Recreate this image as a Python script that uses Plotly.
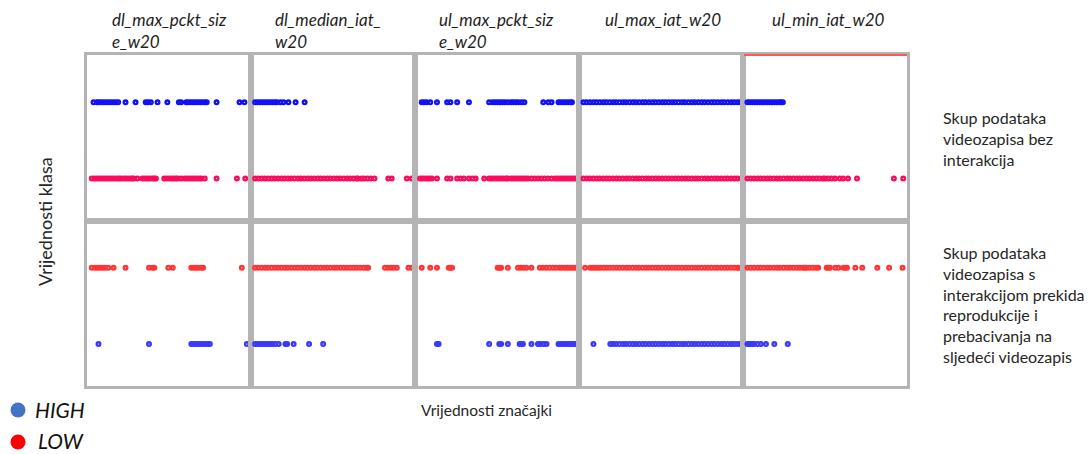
import plotly.graph_objects as go
from plotly.subplots import make_subplots

# Feature names shown as column headers (wrapped as in the layout)
feature_headers = [
    "dl_max_pckt_siz<br>e_w20",
    "dl_median_iat_<br>w20",
    "ul_max_pckt_siz<br>e_w20",
    "ul_max_iat_w20",
    "ul_min_iat_w20",
]
row_labels = [
    "Skup podataka<br>videozapisa bez<br>interakcija",
    "Skup podataka<br>videozapisa s<br>interakcijom prekida<br>reprodukcije i<br>prebacivanja na<br>sljedeći videozapis",
]
class_names = ["HIGH", "LOW"]

# ---- Dataset without interaction (top row), normalised feature values 0..100 ----
dlmax_top_high = [4, 6, 7, 8.5, 10, 11.5, 13, 14.5, 16, 17.5, 19, 23.5, 29.6, 35.8, 37.2, 38.9, 43, 49,
                  56, 57.4, 60.5, 61.5, 63, 64.5, 66, 67.5, 69, 70.5, 72, 73, 79, 93, 96]
dlmax_top_low = [2.9, 4.5, 6, 7.5, 9, 10.5, 12, 13.5, 15, 16.5, 18, 19.5, 20.4, 22, 23.5, 25, 26.5, 27.6,
                 28.6, 30.7, 33.8, 35.3, 36.8, 38.3, 39.8, 41, 42, 47.1, 48.6, 50.1, 51.6, 53, 54.3, 55.4,
                 57.4, 59.4, 60.9, 62.4, 63.9, 65.4, 66.9, 68.4, 69.8, 71.8, 79, 91.4, 96.5]
dlmed_top_high = [2.5, 4, 5.5, 7, 8.5, 10, 11.5, 13, 14.5, 15.8, 17.9, 19.8, 22.8, 27.2, 32.7]
dlmed_top_low = [2.5, 4.4, 6.5, 8.4, 10.5, 12.6, 14.4, 16.5, 18.6, 20.4, 22.5, 24.4, 26.5, 28.6, 30.4,
                 32.5, 34.6, 36.4, 38.5, 40.6, 42.4, 44.5, 46.6, 48.4, 50.5, 52.6, 54.4, 56.5, 58.6, 60.4,
                 62.5, 64.4, 65.2, 67.3, 69, 71, 73, 75.3, 83.7, 85.8, 95, 98]
ulmax_top_high = [4.1, 5.5, 7, 9.3, 13.4, 19.6, 21.6, 25.7, 32.9, 45.2, 47.3, 48.8, 50.3, 51.8, 53.3,
                  54.8, 56.6, 58.6, 60, 61.5, 63, 65, 66.7, 78.2, 81.3, 83.3, 87.5, 89, 90.5, 92, 93.5,
                  95, 95.7]
ulmax_top_low = [3.1, 4.5, 6, 7.5, 9, 10.3, 13.4, 19.6, 21.6, 25.7, 27.8, 29.8, 32.9, 35, 37, 42.2, 45.2,
                 46.7, 48.2, 49.7, 51.2, 52.7, 54.2, 55.7, 56.6, 58.6, 60.1, 61.6, 63.1, 64.6, 66.1, 67.6,
                 69, 71, 73, 75, 77, 79, 81, 83.3, 85.4, 86.9, 88.4, 89.9, 91.4, 92.9, 94.4, 95.9, 97.4,
                 98.8]
ulmaxiat_top_high = [2.7, 4.6, 6.7, 8.8, 10.6, 12.7, 14.8, 16.6, 18.7, 20.8, 22.6, 24.7, 26.8, 28.6,
                     30.7, 32.8, 34.6, 36.7, 38.8, 40.6, 42.7, 44.8, 46.6, 48.7, 50.8, 52.6, 54.7, 56.8,
                     58.6, 60.7, 62.8, 64.6, 66.7, 68.8, 70.6, 72.7, 74.8, 76.6, 78.7, 80.8, 82.6, 84.7,
                     86.8, 88.6, 90.7, 92.8, 94.6, 96.7, 98.3]
ulmaxiat_top_low = [2.7, 4.7, 6.6, 8.7, 10.8, 12.6, 14.7, 16.8, 18.6, 20.7, 22.8, 24.6, 26.7, 28.8,
                    30.6, 32.7, 34.8, 36.6, 38.7, 40.8, 42.6, 44.7, 46.8, 48.6, 50.7, 52.8, 54.6, 56.7,
                    58.8, 60.6, 62.7, 64.8, 66.6, 68.7, 70.8, 72.6, 74.7, 76.8, 78.6, 80.7, 82.8, 84.6,
                    86.7, 88.8, 90.6, 92.7, 94.8, 96.6, 98.8]
ulmin_top_high = [2.7, 4.2, 5.7, 7.2, 8.7, 10.2, 11.7, 13.2, 14.7, 16.2, 17.7, 19.2, 20.7, 22.2, 23.3, 24.3]
ulmin_top_low = [2.7, 4.6, 6.7, 8.8, 10.6, 12.7, 14.8, 16.6, 18.7, 20.8, 22.6, 24.7, 26.8, 28.6, 30.7,
                 32.8, 34.6, 36.7, 38.8, 40.6, 42.7, 44.8, 46.6, 48.7, 50, 52, 54, 56, 59, 61, 64, 69.5,
                 92, 97.7]

# ---- Dataset with playback interruption / skip interaction (bottom row) ----
dlmax_bot_high = [7, 37.8, 63.6, 65, 66.5, 68, 69.5, 71, 72.5, 74, 74.9, 97.5]
dlmax_bot_low = [2.9, 5, 6.5, 8, 9.5, 11, 13, 16.2, 23.5, 37.8, 40, 41, 49.6, 52.3, 63.6, 65, 66.5, 68,
                 69.5, 70.8, 94.4]
dlmed_bot_high = [2.5, 4, 5.5, 7, 8.5, 10, 11.5, 13, 14.8, 16.9, 21, 22, 26, 35.4, 44]
dlmed_bot_low = [2.5, 4.4, 6.5, 8.6, 10.4, 12.5, 14.6, 16.4, 18.5, 20.6, 22.4, 24.5, 26.6, 28.4, 30.5,
                 32.6, 34.4, 36.5, 38.6, 40.4, 42.5, 44.6, 46.4, 48.5, 50.6, 52.4, 54.5, 56.6, 58.4,
                 60.5, 62.6, 64.4, 66.5, 68.6, 70.4, 71.4, 81.7, 83.5, 85.3, 87, 88.9, 96, 98]
ulmax_bot_high = [13.4, 14.4, 45.2, 51.4, 52.5, 56.6, 63.8, 64.8, 65.8, 71, 75, 76.5, 78.5, 80.2, 87.5,
                  89, 90.5, 92, 93.5, 95, 96.5, 97.7]
ulmax_bot_low = [4.1, 9.3, 13.4, 20.6, 21.6, 22.6, 50.4, 51.5, 52.5, 56.6, 62.8, 64.5, 66.2, 67.9, 71,
                 76.1, 78, 80, 82, 84, 86, 88, 89.5, 91.5, 93, 94.5, 96, 97.5, 98.8]
ulmaxiat_bot_high = [8.8, 19.1, 20.8, 22.6, 24.7, 26.8, 28.6, 30.7, 32.8, 34.6, 36.7, 38.8, 40.6, 42.7,
                     44.8, 46.6, 48.7, 50.8, 52.6, 54.7, 56.8, 58.6, 60.7, 62.8, 64.6, 66.7, 68.8, 70.6,
                     72.7, 74.8, 76.6, 78.7, 80.8, 82.6, 84.7, 86.8, 88.6, 90.7, 92.8, 94.6, 96.7, 98.3]
ulmaxiat_bot_low = [3.7, 6.8, 8.5, 10, 11.5, 13, 15, 16.8, 18.6, 20.7, 22.8, 24.6, 26.7, 28.8, 30.6,
                    32.7, 34.8, 36.6, 38.7, 40.8, 42.6, 44.7, 46.8, 48.6, 50.7, 52.8, 54.6, 56.7, 58.8,
                    60.6, 62.7, 64.8, 66.6, 68.7, 70.8, 72.6, 74.7, 76.8, 78.6, 80.7, 82.8, 84.6, 86.7,
                    88.8, 90.6, 92.7, 94.8, 96.6, 97.3]
ulmin_bot_high = [2.7, 3.7, 4.7, 5.8, 6.8, 8.8, 10.9, 14, 19.1, 27.3]
ulmin_bot_low = [2.7, 4.6, 6.7, 8.8, 10.6, 12.7, 14.8, 16.6, 18.7, 20.8, 22.6, 24.7, 26.8, 28.6, 30.7,
                 32.8, 34.6, 36.7, 37.7, 38.7, 40.5, 42.5, 44.5, 45.9, 51, 52, 53, 56.2, 58.2, 61.3,
                 62.3, 63.4, 68.5, 72.7, 81.9, 89.1, 97.3]

top_high = [dlmax_top_high, dlmed_top_high, ulmax_top_high, ulmaxiat_top_high, ulmin_top_high]
top_low = [dlmax_top_low, dlmed_top_low, ulmax_top_low, ulmaxiat_top_low, ulmin_top_low]
bot_high = [dlmax_bot_high, dlmed_bot_high, ulmax_bot_high, ulmaxiat_bot_high, ulmin_bot_high]
bot_low = [dlmax_bot_low, dlmed_bot_low, ulmax_bot_low, ulmaxiat_bot_low, ulmin_bot_low]

# Vertical position of each class strip per row (upper strip = 1, lower strip = 0)
top_levels = {"HIGH": 1, "LOW": 0}
bot_levels = {"LOW": 1, "HIGH": 0}

# Colours per row
top_colors = {"HIGH": "#1010ff", "LOW": "#ff0a5e"}
bot_colors = {"HIGH": "#3838ff", "LOW": "#ff3535"}

W, H = 1091, 454
L, R, T, B = 87, 907, 55, 386


def px(x):
    return (x - L) / (R - L)


def py(y):
    return (B - y) / (B - T)


fig = make_subplots(rows=2, cols=5, horizontal_spacing=0, vertical_spacing=0)

rows = [
    (1, top_high, top_low, top_levels, top_colors),
    (2, bot_high, bot_low, bot_levels, bot_colors),
]
for r, highs, lows, levels, colors in rows:
    for c in range(5):
        for cls, vals in (("LOW", lows[c]), ("HIGH", highs[c])):
            fig.add_trace(
                go.Scatter(
                    x=vals,
                    y=[levels[cls]] * len(vals),
                    mode="markers",
                    marker=dict(symbol="circle-open", size=3.6, color=colors[cls],
                                line=dict(width=2.4, color=colors[cls])),
                    showlegend=False,
                    hoverinfo="x",
                    name=cls,
                ),
                row=r, col=c + 1,
            )

fig.update_xaxes(range=[0, 100], showticklabels=False, showgrid=False, zeroline=False,
                 showline=True, mirror=True, linecolor="#b4b4b4", linewidth=3, ticks="")
fig.update_yaxes(range=[-0.55, 1.62], showticklabels=False, showgrid=False, zeroline=False,
                 showline=True, mirror=True, linecolor="#b4b4b4", linewidth=3, ticks="")

annotations = []
header_x = [110, 273, 437, 603, 770]
for hx, label in zip(header_x, feature_headers):
    annotations.append(dict(
        x=px(hx), y=py(7), xref="paper", yref="paper", xanchor="left", yanchor="top",
        text=f"<i>{label}</i>", showarrow=False, align="left",
        font=dict(family="Lato", size=17, color="#1e1e1e"),
    ))

annotations.append(dict(
    x=px(941), y=py(106), xref="paper", yref="paper", xanchor="left", yanchor="top",
    text=row_labels[0], showarrow=False, align="left",
    font=dict(family="Lato", size=16, color="#262626"),
))
annotations.append(dict(
    x=px(941), y=py(241), xref="paper", yref="paper", xanchor="left", yanchor="top",
    text=row_labels[1], showarrow=False, align="left",
    font=dict(family="Lato", size=16, color="#262626"),
))
annotations.append(dict(
    x=px(45), y=py(222), xref="paper", yref="paper", xanchor="center", yanchor="middle",
    text="Vrijednosti klasa", textangle=-90, showarrow=False,
    font=dict(family="Lato", size=18, color="#262626"),
))
annotations.append(dict(
    x=px(486), y=py(410), xref="paper", yref="paper", xanchor="center", yanchor="middle",
    text="Vrijednosti značajki", showarrow=False,
    font=dict(family="Lato", size=15.5, color="#262626"),
))

# Class legend drawn beneath the grid
legend_items = [("HIGH", "#4472c4", 410, 409.5, 33), ("LOW", "#ff0000", 442, 440.5, 36)]
shapes = []
for name, col, ly, ty, tx in legend_items:
    shapes.append(dict(
        type="circle", xref="paper", yref="paper", xsizemode="pixel", ysizemode="pixel",
        xanchor=px(18), yanchor=py(ly), x0=-7.5, x1=7.5, y0=-7.5, y1=7.5,
        fillcolor=col, line=dict(color=col, width=0),
    ))
    annotations.append(dict(
        x=px(tx), y=py(ty), xref="paper", yref="paper", xanchor="left", yanchor="middle",
        text=f"<i>{name}</i>", showarrow=False,
        font=dict(family="Lato", size=21, color="#111111"),
    ))

# Highlight along the top edge of the last column
shapes.append(dict(
    type="line", xref="paper", yref="paper", x0=px(744), x1=px(907), y0=py(55), y1=py(55),
    line=dict(color="#ff5757", width=2), layer="above",
))

fig.update_layout(
    width=W, height=H,
    margin=dict(l=L, r=W - R, t=T, b=H - B),
    paper_bgcolor="white", plot_bgcolor="white",
    annotations=annotations, shapes=shapes,
    showlegend=False,
)

fig.write_html("out.html")
